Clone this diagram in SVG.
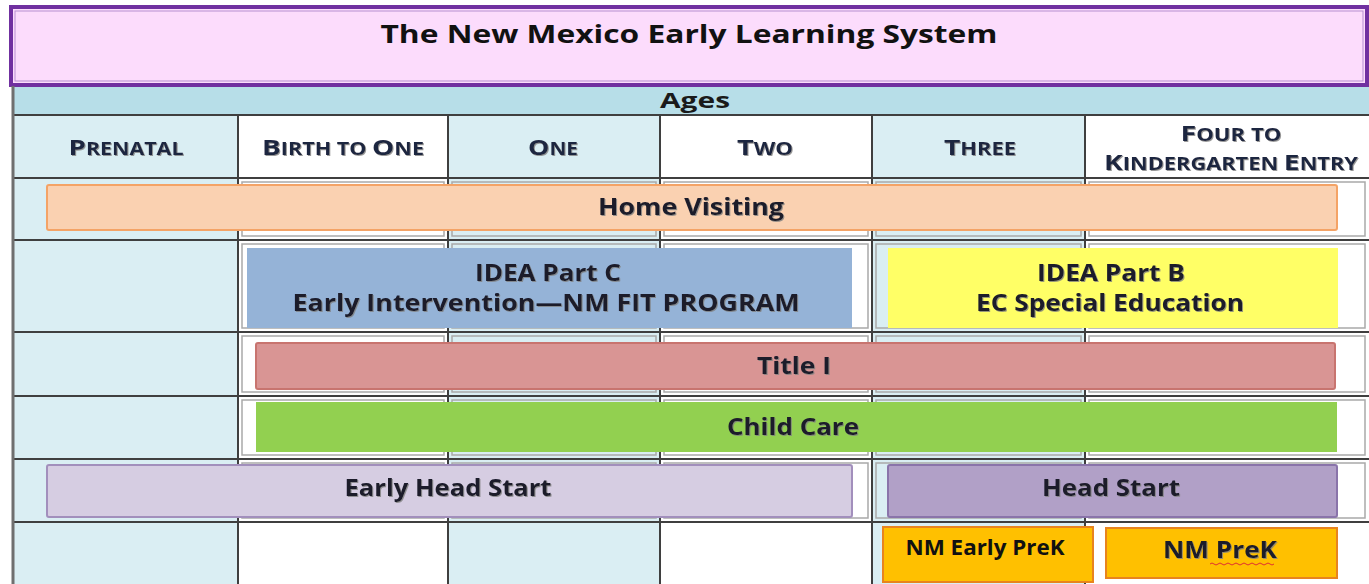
<svg xmlns="http://www.w3.org/2000/svg" width="1369" height="584" viewBox="0 0 1369 584">
  <defs>
    <filter id="shade" x="-5%" y="-30%" width="110%" height="160%">
      <feDropShadow dx="1" dy="1" stdDeviation="0.7" flood-color="#7f7f7f" flood-opacity="0.8"/>
    </filter>
  </defs>
  <style>
    text { font-family: "Open Sans", "Liberation Sans", sans-serif; font-weight: 700; text-anchor: middle; }
    .title { font-size: 25px; fill: #111111; }
    .ages { font-size: 21px; fill: #1a1a1a; }
    .hd { fill: #1f2540; filter: url(#shade); }
    .big { font-size: 22px; }
    .sm { font-size: 17px; }
    .lbl { font-size: 23px; fill: #1a1a2a; filter: url(#shade); }
    .lbl2 { font-size: 21px; fill: #111111; }
    .blue { fill: #daeef3; }
    .white { fill: #ffffff; }
    .inner { fill: none; stroke: #a9a9a9; stroke-width: 1.5; }
    .grid { stroke: #3f3f3f; stroke-width: 2; }
  </style>

  <rect x="0" y="0" width="1369" height="584" fill="#ffffff"/>

  <!-- title banner -->
  <g id="title">
    <rect x="11" y="7" width="1356" height="78" fill="#fcdcfc" stroke="#7030a0" stroke-width="4"/>
    <rect x="15" y="11" width="1348" height="70" fill="none" stroke="#b58fd0" stroke-width="1"/>
    <text class="title" x="689" y="43" textLength="617" lengthAdjust="spacingAndGlyphs">The New Mexico Early Learning System</text>
  </g>

  <!-- ages band -->
  <g id="ages">
    <rect x="13" y="87" width="1356" height="28" fill="#b7dee8"/>
    <text class="ages" x="695" y="108" textLength="70" lengthAdjust="spacingAndGlyphs">Ages</text>
  </g>

  <!-- table cells: alternating column shading -->
  <g id="table">
    <rect class="blue" x="13" y="115" width="225" height="469"/>
    <rect class="white" x="238" y="115" width="210" height="469"/>
    <rect class="blue" x="448" y="115" width="212" height="469"/>
    <rect class="white" x="660" y="115" width="212" height="469"/>
    <rect class="blue" x="872" y="115" width="213" height="469"/>
    <rect class="white" x="1085" y="115" width="284" height="469"/>

    <!-- inner cell borders of the program rows -->
    <g class="inner">
      <rect x="242" y="182" width="202" height="54"/>
      <rect x="452" y="182" width="204" height="54"/>
      <rect x="664" y="182" width="204" height="54"/>
      <rect x="876" y="182" width="205" height="54"/>
      <rect x="1089" y="182" width="276" height="54"/>
      <rect x="242" y="244" width="202" height="84"/>
      <rect x="452" y="244" width="204" height="84"/>
      <rect x="664" y="244" width="204" height="84"/>
      <rect x="876" y="244" width="205" height="84"/>
      <rect x="1089" y="244" width="276" height="84"/>
      <rect x="242" y="336" width="202" height="56"/>
      <rect x="452" y="336" width="204" height="56"/>
      <rect x="664" y="336" width="204" height="56"/>
      <rect x="876" y="336" width="205" height="56"/>
      <rect x="1089" y="336" width="276" height="56"/>
      <rect x="242" y="400" width="202" height="55"/>
      <rect x="452" y="400" width="204" height="55"/>
      <rect x="664" y="400" width="204" height="55"/>
      <rect x="876" y="400" width="205" height="55"/>
      <rect x="1089" y="400" width="276" height="55"/>
      <rect x="242" y="463" width="202" height="55"/>
      <rect x="452" y="463" width="204" height="55"/>
      <rect x="664" y="463" width="204" height="55"/>
      <rect x="876" y="463" width="205" height="55"/>
      <rect x="1089" y="463" width="276" height="55"/>
    </g>

    <!-- grid rules -->
    <g class="grid">
      <line x1="13" y1="115" x2="1369" y2="115"/>
      <line x1="13" y1="178" x2="1369" y2="178"/>
      <line x1="13" y1="240" x2="1369" y2="240"/>
      <line x1="13" y1="332" x2="1369" y2="332"/>
      <line x1="13" y1="396" x2="1369" y2="396"/>
      <line x1="13" y1="459" x2="1369" y2="459"/>
      <line x1="13" y1="522" x2="1369" y2="522"/>
      <line x1="238" y1="115" x2="238" y2="584"/>
      <line x1="448" y1="115" x2="448" y2="584"/>
      <line x1="660" y1="115" x2="660" y2="584"/>
      <line x1="872" y1="115" x2="872" y2="584"/>
      <line x1="1085" y1="115" x2="1085" y2="584"/>
    </g>
    <line x1="13" y1="86" x2="13" y2="584" stroke="#6f6f6f" stroke-width="3"/>
  </g>

  <!-- age column headings -->
  <g id="h-prenatal"><text class="hd" x="126" y="155" textLength="115" lengthAdjust="spacingAndGlyphs"><tspan class="big">P</tspan><tspan class="sm">RENATAL</tspan></text></g>
  <g id="h-birth"><text class="hd" x="343" y="155" textLength="162" lengthAdjust="spacingAndGlyphs"><tspan class="big">B</tspan><tspan class="sm">IRTH TO </tspan><tspan class="big">O</tspan><tspan class="sm">NE</tspan></text></g>
  <g id="h-one"><text class="hd" x="553" y="155" textLength="50" lengthAdjust="spacingAndGlyphs"><tspan class="big">O</tspan><tspan class="sm">NE</tspan></text></g>
  <g id="h-two"><text class="hd" x="765" y="155" textLength="56" lengthAdjust="spacingAndGlyphs"><tspan class="big">T</tspan><tspan class="sm">WO</tspan></text></g>
  <g id="h-three"><text class="hd" x="980" y="155" textLength="72" lengthAdjust="spacingAndGlyphs"><tspan class="big">T</tspan><tspan class="sm">HREE</tspan></text></g>
  <g id="h-four">
    <text class="hd" x="1231" y="141" textLength="101" lengthAdjust="spacingAndGlyphs"><tspan class="big">F</tspan><tspan class="sm">OUR TO</tspan></text>
    <text class="hd" x="1231" y="170" textLength="254" lengthAdjust="spacingAndGlyphs"><tspan class="big">K</tspan><tspan class="sm">INDERGARTEN </tspan><tspan class="big">E</tspan><tspan class="sm">NTRY</tspan></text>
  </g>

  <!-- programme bars -->
  <g id="home-visiting">
    <rect x="47" y="185" width="1290" height="45" rx="2" fill="#fad1b1" stroke="#f4a366" stroke-width="2"/>
    <text class="lbl" x="691" y="215" textLength="186" lengthAdjust="spacingAndGlyphs">Home Visiting</text>
  </g>
  <g id="idea-c">
    <rect x="247" y="248" width="605" height="80" fill="#95b3d7"/>
    <text class="lbl" x="548" y="281" textLength="146" lengthAdjust="spacingAndGlyphs">IDEA Part C</text>
    <text class="lbl" x="546" y="311" textLength="507" lengthAdjust="spacingAndGlyphs">Early Intervention—NM FIT PROGRAM</text>
  </g>
  <g id="idea-b">
    <rect x="888" y="248" width="450" height="80" fill="#ffff66"/>
    <text class="lbl" x="1111" y="281" textLength="148" lengthAdjust="spacingAndGlyphs">IDEA Part B</text>
    <text class="lbl" x="1110" y="311" textLength="268" lengthAdjust="spacingAndGlyphs">EC Special Education</text>
  </g>
  <g id="title-i">
    <rect x="256" y="343" width="1079" height="46" rx="2" fill="#d99594" stroke="#c8746f" stroke-width="2"/>
    <text class="lbl" x="794" y="374" textLength="74" lengthAdjust="spacingAndGlyphs">Title I</text>
  </g>
  <g id="child-care">
    <rect x="256" y="402" width="1081" height="50" fill="#92d050"/>
    <text class="lbl" x="793" y="435" textLength="132" lengthAdjust="spacingAndGlyphs">Child Care</text>
  </g>
  <g id="early-head-start">
    <rect x="47" y="465" width="805" height="52" rx="2" fill="#d6cde2" stroke="#a28fbc" stroke-width="2"/>
    <text class="lbl" x="448" y="496" textLength="207" lengthAdjust="spacingAndGlyphs">Early Head Start</text>
  </g>
  <g id="head-start">
    <rect x="888" y="465" width="449" height="52" rx="2" fill="#b1a0c7" stroke="#8a74aa" stroke-width="2"/>
    <text class="lbl" x="1111" y="496" textLength="138" lengthAdjust="spacingAndGlyphs">Head Start</text>
  </g>
  <g id="nm-early-prek">
    <rect x="883" y="527" width="210" height="55" fill="#ffc000" stroke="#e8841e" stroke-width="2"/>
    <text class="lbl2" x="985" y="555" textLength="159" lengthAdjust="spacingAndGlyphs">NM Early PreK</text>
  </g>
  <g id="nm-prek">
    <rect x="1106" y="528" width="231" height="50" fill="#ffc000" stroke="#e8841e" stroke-width="2"/>
    <text class="lbl" x="1220" y="558" textLength="114" lengthAdjust="spacingAndGlyphs">NM PreK</text>
    <path d="M1210 564 q2 -2 4 0 t4 0 t4 0 t4 0 t4 0 t4 0 t4 0 t4 0 t4 0 t4 0 t4 0 t4 0 t4 0 t4 0 t4 0 t4 0" fill="none" stroke="#e03030" stroke-width="1"/>
  </g>
</svg>
